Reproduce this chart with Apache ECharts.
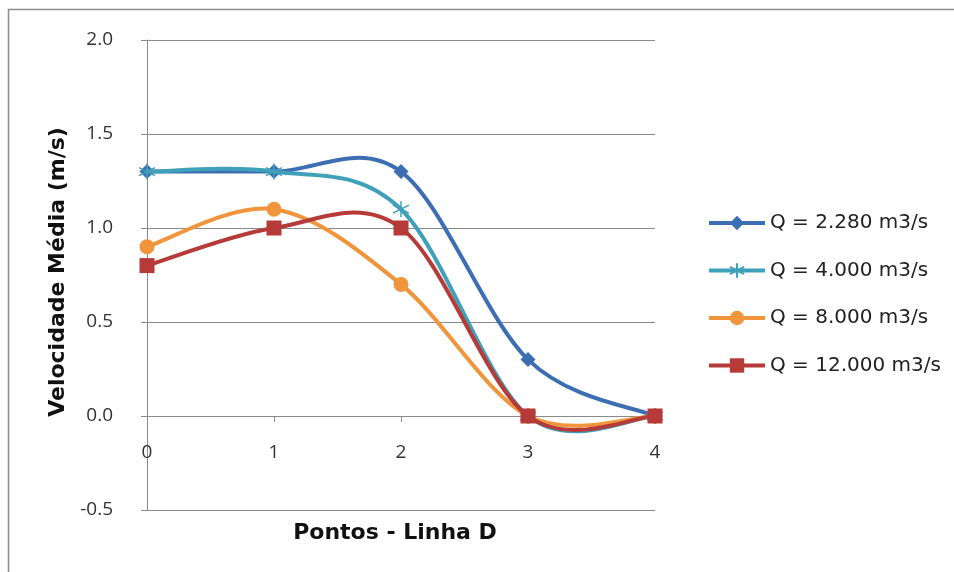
<!DOCTYPE html>
<html>
<head>
<meta charset="utf-8">
<script src="https://cdn.jsdelivr.net/npm/echarts@6/dist/echarts.min.js"></script>
<style>
  html, body { margin: 0; padding: 0; background: #ffffff; }
  #chart { width: 954px; height: 572px; }
</style>
</head>
<body>
<div id="chart"></div>
<script>
// Measurement points along line D
const pontos = [0, 1, 2, 3, 4];
// Mean velocity (m/s) for each discharge
const q2280 = [1.3, 1.3, 1.3, 0.3, 0.0];
const q4000 = [1.3, 1.3, 1.1, 0.0, 0.0];
const q8000 = [0.9, 1.1, 0.7, 0.0, 0.0];
const q12000 = [0.8, 1.0, 1.0, 0.0, 0.0];
const seriesNames = ['Q = 2.280 m3/s', 'Q = 4.000 m3/s', 'Q = 8.000 m3/s', 'Q = 12.000 m3/s'];
const yTicks = [-0.5, 0.0, 0.5, 1.0, 1.5, 2.0];

const colors = ['#3C6EB4', '#3FA0BA', '#F0953B', '#B63A38'];
const starPath = 'path://M0,-10L0,10M-8.66,-5L8.66,5M-8.66,5L8.66,-5';

function pairs(ys) { return pontos.map((x, i) => [x, ys[i]]); }

// Smoothed curve: cubic Bezier segments with Catmull-Rom tangents (1/6 of the
// neighbour span), built from the axis coordinates of the data points.
function curveSeries(ys, color, z) {
  return {
    type: 'custom',
    data: pairs(ys),
    z: z,
    silent: true,
    animation: false,
    renderItem: function (params, api) {
      const i = params.dataIndex;
      const n = pontos.length;
      if (i >= n - 1) return { type: 'group', children: [] };
      const p = k => api.coord([pontos[Math.max(0, Math.min(n - 1, k))], ys[Math.max(0, Math.min(n - 1, k))]]);
      const p0 = p(i - 1), p1 = p(i), p2 = p(i + 1), p3 = p(i + 2);
      return {
        type: 'bezierCurve',
        shape: {
          x1: p1[0], y1: p1[1],
          cpx1: p1[0] + (p2[0] - p0[0]) / 6, cpy1: p1[1] + (p2[1] - p0[1]) / 6,
          cpx2: p2[0] - (p3[0] - p1[0]) / 6, cpy2: p2[1] - (p3[1] - p1[1]) / 6,
          x2: p2[0], y2: p2[1]
        },
        style: { stroke: color, lineWidth: 4, fill: null, lineCap: 'round' }
      };
    }
  };
}

// Markers (and legend entry) for one discharge
function markerSeries(name, ys, color, symbol, size, z, extraItem) {
  return {
    name: name,
    type: 'line',
    data: pairs(ys),
    z: z,
    smooth: false,
    symbol: symbol,
    symbolSize: size,
    showAllSymbol: true,
    lineStyle: { color: color, width: 0 },
    itemStyle: Object.assign({ color: color }, extraItem || {}),
    emphasis: { disabled: true },
    animation: false
  };
}

const chart = echarts.init(document.getElementById('chart'));

const axisGray = '#8a8a8a';
const tickFont = { fontFamily: 'Open Sans', fontSize: 19, color: '#333333' };

chart.setOption({
  backgroundColor: '#ffffff',
  animation: false,
  grid: { left: 147, right: 299, top: 40, bottom: 62, containLabel: false, outerBoundsMode: 'none' },
  xAxis: {
    type: 'value',
    min: 0, max: 4, interval: 1,
    axisLine: { show: true, onZero: true, onZeroAxisIndex: 0, lineStyle: { color: axisGray, width: 1 } },
    axisTick: { show: true, inside: false, length: 6, lineStyle: { color: axisGray } },
    // labels sit just under the zero line, above the bottom gridline
    axisLabel: Object.assign({ margin: -67, formatter: v => String(v) }, tickFont),
    splitLine: { show: false }
  },
  yAxis: {
    type: 'value',
    min: yTicks[0], max: yTicks[yTicks.length - 1], interval: 0.5,
    axisLine: { show: true, onZero: false, lineStyle: { color: axisGray, width: 1 } },
    axisTick: { show: true, inside: false, length: 6, lineStyle: { color: axisGray } },
    axisLabel: Object.assign({ margin: 34, formatter: v => v.toFixed(1) }, tickFont),
    splitLine: { show: true, lineStyle: { color: axisGray, width: 1 } }
  },
  legend: {
    orient: 'vertical',
    left: 702,
    top: 208,
    itemWidth: 56,
    itemHeight: 18,
    itemGap: 27.5,
    selectedMode: false,
    lineStyle: { width: 4 },
    textStyle: { fontFamily: 'DejaVu Sans', fontSize: 20, lineHeight: 20, color: '#222222' },
    data: seriesNames
  },
  graphic: [
    { type: 'line', shape: { x1: 8, y1: 9.5, x2: 954, y2: 9.5 }, style: { stroke: '#8c8c8c', lineWidth: 1.5 }, silent: true },
    { type: 'line', shape: { x1: 8.5, y1: 9, x2: 8.5, y2: 572 }, style: { stroke: '#8c8c8c', lineWidth: 1.5 }, silent: true },
    {
      type: 'text', x: 395, y: 533,
      style: { text: 'Pontos - Linha D', fontFamily: 'DejaVu Sans', fontWeight: 'bold', fontSize: 22, fill: '#111111', align: 'center', verticalAlign: 'middle' },
      silent: true
    },
    {
      type: 'text', x: 58, y: 272, rotation: Math.PI / 2,
      style: { text: 'Velocidade Média (m/s)', fontFamily: 'DejaVu Sans', fontWeight: 'bold', fontSize: 22, fill: '#111111', align: 'center', verticalAlign: 'middle' },
      silent: true
    }
  ],
  series: [
    markerSeries(seriesNames[0], q2280, colors[0], 'diamond', 15, 3),
    markerSeries(seriesNames[1], q4000, colors[1], starPath, 16, 5, { borderColor: colors[1], borderWidth: 1.5 }),
    markerSeries(seriesNames[2], q8000, colors[2], 'circle', 15, 7),
    markerSeries(seriesNames[3], q12000, colors[3], 'rect', 15, 9),
    curveSeries(q2280, colors[0], 2),
    curveSeries(q4000, colors[1], 4),
    curveSeries(q8000, colors[2], 6),
    curveSeries(q12000, colors[3], 8)
  ]
});
</script>
</body>
</html>
